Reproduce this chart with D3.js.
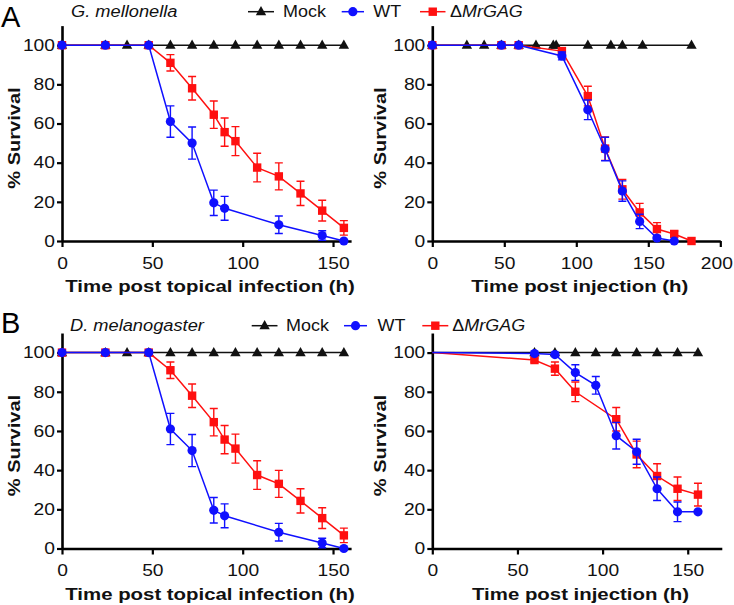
<!DOCTYPE html>
<html><head><meta charset="utf-8">
<script src="https://cdn.jsdelivr.net/npm/d3@7"></script>
<style>body{margin:0;background:#fff}svg{display:block}</style>
</head><body>
<svg id="c" width="734" height="605"></svg>
<script>
// ---------- DATA ----------
// Topical infection (panels A-left and B-left share the same curves)
const topMockTime = [0,24,36,48,60,72,84,96,108,120,132,144,156];
const topMockSurv = [100,100,100,100,100,100,100,100,100,100,100,100,100];
const topWTTime   = [0,24,48,60,72,84,90,120,144,156];
const topWTSurv   = [100,100,100,61,50,19.5,16.7,8.3,2.8,0];
const topWTErr    = [0,0,0,8,8.2,6.5,6.1,4.5,2.4,0];
const topMutTime  = [0,24,48,60,72,84,90,96,108,120,132,144,156];
const topMutSurv  = [100,100,100,91,78,64.5,55.6,51,37.5,33,24.3,15.5,6.7];
const topMutErr   = [0,0,0,4.2,6,7,7.2,7.4,7.3,6.9,6.2,5.3,3.7];

// G. mellonella injection (panel A-right)
const gmInjMockTime = [0,24,36,48,60,72,84,86,108,124,132,146,180];
const gmInjMockSurv = [100,100,100,100,100,100,100,100,100,100,100,100,100];
const gmInjWTTime   = [0,48,60,90,108,120,132,144,156,168];
const gmInjWTSurv   = [100,100,100,94.5,67,47,25.5,10,1.5,0];
const gmInjWTErr    = [0,0,0,2,5,6,5.2,3.7,0,0];
const gmInjMutTime  = [0,48,60,90,108,120,132,144,156,168,180];
const gmInjMutSurv  = [100,100,100,97,74,47.2,26.4,14.6,6.1,3.6,0];
const gmInjMutErr   = [0,0,0,1.5,5,6,5,4.6,3.3,1.5,0];

// D. melanogaster injection (panel B-right)
const dmInjMockTime = [0,60,72,84,96,108,120,132,144,156];
const dmInjMockSurv = [100,100,100,100,100,100,100,100,100,100];
const dmInjWTTime   = [0,60,72,84,96,108,120,132,144,156];
const dmInjWTSurv   = [100,99.5,99,89.8,83.3,57.6,49.4,30.5,18.7,18.7];
const dmInjWTErr    = [0,0,0.8,4,4.5,6.8,6.4,6,5,0];
const dmInjMutTime  = [0,60,72,84,108,120,132,144,156];
const dmInjMutSurv  = [100,96.2,91.8,80,66,48,37,30.5,27.5];
const dmInjMutErr   = [0,1,3.4,5,6,6.8,6.3,6,5.8];

const yTicks = [0,20,40,60,80,100];
const seriesNames = ["Mock","WT","MrGAG"];
const xTitleTopical = "Time post topical infection (h)";
const xTitleInjection = "Time post injection (h)";
const yTitle = "% Survival";

// ---------- LAYOUT ----------
const svg = d3.select("#c");
const FONT = "'Liberation Sans', Arial, Helvetica, sans-serif";
const colors = {mock:"#111", wt:"#1010ff", mut:"#ff1010"};

function zipS(t,v,e){ return t.map((d,i)=>({t:d, v:v[i], e:e?e[i]:0})); }

const panels = [
  {left:62, right:351.1, xMax:160, y0:241, y100:45.2, xTicks:[0,50,100,150], xTitle:xTitleTopical,
   yLabX:19.5, hideZero:false,
   mock:zipS(topMockTime,topMockSurv), wt:zipS(topWTTime,topWTSurv,topWTErr), mut:zipS(topMutTime,topMutSurv,topMutErr)},
  {left:432.3, right:720.3, xMax:200, y0:241, y100:45.2, xTicks:[0,50,100,150,200], xTitle:xTitleInjection,
   yLabX:386, hideZero:false,
   mock:zipS(gmInjMockTime,gmInjMockSurv), wt:zipS(gmInjWTTime,gmInjWTSurv,gmInjWTErr), mut:zipS(gmInjMutTime,gmInjMutSurv,gmInjMutErr)},
  {left:62, right:351.1, xMax:160, y0:548.5, y100:352.6, xTicks:[0,50,100,150], xTitle:xTitleTopical,
   yLabX:19.5, hideZero:false,
   mock:zipS(topMockTime,topMockSurv), wt:zipS(topWTTime,topWTSurv,topWTErr), mut:zipS(topMutTime,topMutSurv,topMutErr)},
  {left:432.3, right:721.8, xMax:170, y0:548.5, y100:352.6, xTicks:[0,50,100,150], xTitle:xTitleInjection,
   yLabX:386, hideZero:true,
   mock:zipS(dmInjMockTime,dmInjMockSurv), wt:zipS(dmInjWTTime,dmInjWTSurv,dmInjWTErr), mut:zipS(dmInjMutTime,dmInjMutSurv,dmInjMutErr)}
];

function stretch(sel, sx){
  sel.each(function(){
    const t = d3.select(this);
    let x = +t.attr("x")||0; const y = +t.attr("y")||0;
    t.attr("x",0).attr("y",0).attr("transform",`translate(${x},${y}) scale(${sx},1)`);
    // keep labels inside the page
    const b = this.getBoundingClientRect();
    if(b.right > 733){ x -= (b.right - 733); t.attr("transform",`translate(${x},${y}) scale(${sx},1)`); }
  });
}

const triPath = "M0,-5.6L5.2,3.6L-5.2,3.6Z";
function marker(g, type, color){
  if(type==="mock") return g.append("path").attr("d",triPath).attr("fill",color);
  if(type==="wt") return g.append("circle").attr("r",4.6).attr("fill",color);
  return g.append("rect").attr("x",-4.2).attr("y",-4.2).attr("width",8.4).attr("height",8.4).attr("fill",color);
}

panels.forEach(p=>{
  const k = (p.y0 - p.y100)/100;
  const x = d3.scaleLinear().domain([0,p.xMax]).range([p.left,p.right]);
  const y = d3.scaleLinear().domain([0,110]).range([p.y0, p.y0 - 110*k]);
  const g = svg.append("g");

  // axes
  const ya = g.append("g").attr("transform",`translate(${p.left},0)`)
    .call(d3.axisLeft(y).tickValues(yTicks).tickSize(5).tickSizeOuter(0).tickPadding(2));
  const xa = g.append("g").attr("transform",`translate(0,${p.y0})`)
    .call(d3.axisBottom(x).tickValues(p.xTicks).tickSize(6).tickSizeOuter(0).tickPadding(10));
  [ya,xa].forEach(a=>{
    a.select(".domain").attr("stroke","#000").attr("stroke-width",2.6);
    a.selectAll(".tick line").attr("stroke","#000").attr("stroke-width",2.2);
    a.selectAll(".tick text").attr("font-family",FONT).attr("font-size",16.3).attr("fill","#111");
    stretch(a.selectAll(".tick text"),1.18);
  });

  // titles
  g.append("text").attr("font-family",FONT).attr("font-size",17).attr("font-weight","bold")
    .attr("text-anchor","middle").attr("fill","#111")
    .attr("transform",`translate(${(p.left+p.right)/2+3.5},${p.y0+51}) scale(1.2,1)`).text(p.xTitle);
  g.append("text").attr("font-family",FONT).attr("font-size",17).attr("font-weight","bold")
    .attr("text-anchor","middle").attr("fill","#111")
    .attr("transform",`translate(${p.yLabX},${p.y0-103}) rotate(-90) scale(1.18,1)`).text(yTitle);

  // series
  const line = d3.line().x(d=>x(d.t)).y(d=>y(d.v));
  const drawSeries = (data,type,color)=>{
    const sg = g.append("g");
    data.filter(d=>d.e>0).forEach(d=>{
      const cx = x(d.t), ya1 = y(d.v+d.e), ya2 = y(d.v-d.e);
      sg.append("path").attr("fill","none").attr("stroke",color).attr("stroke-width",1.4)
        .attr("d",`M${cx},${ya1}V${ya2}M${cx-4},${ya1}H${cx+4}M${cx-4},${ya2}H${cx+4}`);
    });
    sg.append("path").datum(data).attr("fill","none").attr("stroke",color).attr("stroke-width",1.5).attr("d",line);
    data.forEach(d=>{
      if(p.hideZero && d.t===0) return;
      marker(sg,type,color).attr("transform",`translate(${x(d.t)},${y(d.v)})`);
    });
  };
  drawSeries(p.mock,"mock",colors.mock);
  drawSeries(p.mut,"mut",colors.mut);
  drawSeries(p.wt,"wt",colors.wt);
});

// panel letters, subtitles, legends
const headers = [
  {letter:"A", ly:26.5, sub:"G. mellonella", sx:71, by:16.7, lx:[248,274,283, 341.7,364,373.3, 420,445.5,450]},
  {letter:"B", ly:333, sub:"D. melanogaster", sx:70, by:330.7, lx:[251.7,277.5,286, 344,367,377.5, 422.3,448.3,452.3]}
];
headers.forEach(h=>{
  svg.append("text").attr("x",1).attr("y",h.ly).attr("font-family",FONT).attr("font-size",29).attr("fill","#000").text(h.letter);
  svg.append("text").attr("font-family",FONT).attr("font-size",16.3).attr("font-style","italic").attr("fill","#111")
    .attr("transform",`translate(${h.sx},${h.by}) scale(1.12,1)`).text(h.sub);
  const ly = h.by - 5;
  const L = h.lx;
  const items = [
    {type:"mock", color:colors.mock, x1:L[0], x2:L[1], tx:L[2]},
    {type:"wt", color:colors.wt, x1:L[3], x2:L[4], tx:L[5]},
    {type:"mut", color:colors.mut, x1:L[6], x2:L[7], tx:L[8]}
  ];
  items.forEach((it,i)=>{
    svg.append("line").attr("x1",it.x1).attr("x2",it.x2).attr("y1",ly).attr("y2",ly)
      .attr("stroke",it.color).attr("stroke-width",1.5);
    marker(svg,it.type,it.color).attr("transform",`translate(${(it.x1+it.x2)/2},${ly})`);
    const t = svg.append("text").attr("font-family",FONT).attr("font-size",16.8).attr("fill","#111")
      .attr("transform",`translate(${it.tx},${h.by}) scale(1.07,1)`);
    if(it.type==="mut"){
      t.append("tspan").text("\u0394");
      t.append("tspan").attr("font-style","italic").text(seriesNames[i]);
    } else t.text(seriesNames[i]);
  });
});
</script>
</body></html>
